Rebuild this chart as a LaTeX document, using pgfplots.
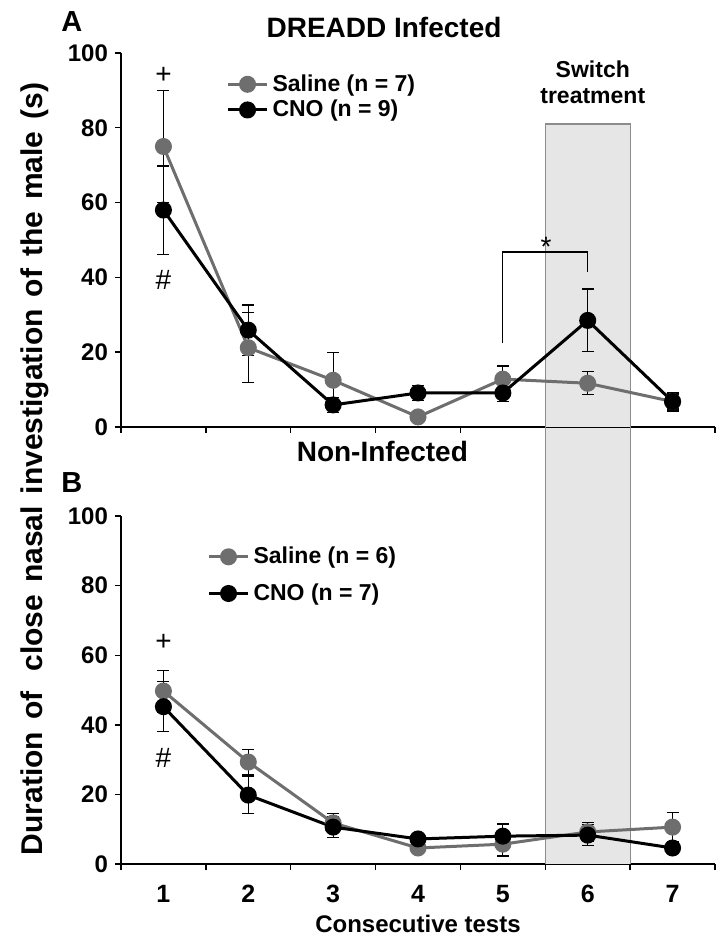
\documentclass[border=0pt]{standalone}
\usepackage{fontspec}
\setmainfont{Liberation Sans}
\usepackage{pgfplots}
\pgfplotsset{compat=1.18}

\definecolor{salgray}{HTML}{6E6E6E}
\definecolor{boxfill}{HTML}{E6E6E6}
\definecolor{boxline}{HTML}{8C8C8C}

\pgfplotsset{
  panel/.style={
    scale only axis, width=297pt,
    xmin=0.5, xmax=7.5, ymin=0, ymax=100,
    axis x line=bottom, axis y line=left,
    axis line style={-, line width=0.7pt},
    ytick={0,20,...,100},
    xtick={1,...,7},
    minor xtick={0.5,1.5,...,7.5},
    tick style={black, line width=0.7pt},
    tick align=outside,
    major tick length=3pt,
    minor tick length=3pt,
    yticklabel style={font=\fontsize{12}{13}\selectfont\bfseries},
    xticklabel style={font=\fontsize{12.5}{13}\selectfont\bfseries},
    /pgf/number format/assume math mode=true,
    clip=false,
    legend style={draw=none, fill=none, inner sep=0pt,
      font=\fontsize{11.5}{13}\selectfont\bfseries, anchor=west},
    legend cell align=left,
    legend image code/.code={\draw[##1, mark repeat=2, mark phase=2]
      plot coordinates {(0pt,0pt)(9.75pt,0pt)(19.5pt,0pt)};},
  },
  sal/.style={color=salgray, line width=1.5pt, mark=*, mark size=3.5pt,
    mark options={fill=salgray, draw=salgray},
    error bars/.cd, y dir=both, y explicit,
    error bar style={black, line width=0.6pt},
    error mark options={black, rotate=90, mark size=3pt, line width=0.6pt}},
  cno/.style={color=black, line width=1.5pt, mark=*, mark size=3.5pt,
    mark options={fill=black, draw=black},
    error bars/.cd, y dir=both, y explicit,
    error bar style={black, line width=0.6pt},
    error mark options={black, rotate=90, mark size=3pt, line width=0.6pt}},
}

\begin{document}
\begin{tikzpicture}
\useasboundingbox (-60.5pt,-254.5pt) rectangle (299pt,213.5pt);

% panel A
\begin{axis}[panel, height=187pt, xticklabels={},
  major x tick style={draw=none},
  legend style={at={(0.177,0.882)}, row sep=-1pt}]
\fill[boxfill] (axis cs:5.5,0) rectangle (axis cs:6.5,81);
\draw[boxline, line width=0.6pt] (axis cs:5.5,0) -- (axis cs:5.5,81) -- (axis cs:6.5,81) -- (axis cs:6.5,0);
\addplot[sal] coordinates {
  (1,75.0) +- (0,15.0)
  (2,21.2) +- (0,9.4)
  (3,12.5) +- (0,7.5)
  (4,2.7)  +- (0,1.5)
  (5,12.8) +- (0,3.5)
  (6,11.7) +- (0,3.1)
  (7,6.8)  +- (0,2.0)
};
\addplot[cno] coordinates {
  (1,58.0) +- (0,11.8)
  (2,25.9) +- (0,6.7)
  (3,5.9)  +- (0,2.0)
  (4,9.1)  +- (0,2.0)
  (5,9.1)  +- (0,2.2)
  (6,28.5) +- (0,8.4)
  (7,6.8)  +- (0,2.5)
};
\legend{Saline (n = 7), CNO (n = 9)}
\draw[line width=0.6pt] (axis cs:5,22.5) -- (axis cs:5,46.8) -- (axis cs:6,46.8) -- (axis cs:6,41.4);
\node[font=\fontsize{14}{14}\selectfont, anchor=base] at (axis cs:5.51,45.6) {*};
\node[font=\fontsize{14}{14}\selectfont] at (axis cs:1,94.1) {+};
\node[font=\fontsize{14}{14}\selectfont] at (axis cs:1,39.3) {\#};
\node[font=\fontsize{14}{16}\selectfont\bfseries] at (axis cs:3.6,106.7) {DREADD Infected};
\node[font=\fontsize{14.5}{16}\selectfont\bfseries] at (axis cs:-0.08,108.3) {A};
\node[font=\fontsize{11.5}{13}\selectfont\bfseries, align=center] at (axis cs:6.06,92.3) {Switch\\[0pt]treatment};
\end{axis}

% panel B
\begin{axis}[panel, height=174pt, at={(0pt,-44.5pt)}, anchor=north west,
  major x tick style={draw=none},
  xticklabel style={yshift=-4pt},
  xlabel={Consecutive tests},
  xlabel style={font=\fontsize{12}{13}\selectfont\bfseries, yshift=0.5pt},
  legend style={at={(0.145,0.83)}, row sep=4.5pt}]
\fill[boxfill] (axis cs:5.5,0) rectangle (axis cs:6.5,125.4);
\draw[boxline, line width=0.6pt] (axis cs:5.5,0) -- (axis cs:5.5,125.6);
\draw[boxline, line width=0.6pt] (axis cs:6.5,0) -- (axis cs:6.5,125.6);
\addplot[sal] coordinates {
  (1,49.7) +- (0,6.0)
  (2,29.3) +- (0,3.7)
  (3,11.8) +- (0,2.8)
  (4,4.6)  +- (0,1.3)
  (5,5.7)  +- (0,3.4)
  (6,9.2)  +- (0,2.8)
  (7,10.6) +- (0,4.3)
};
\addplot[cno] coordinates {
  (1,45.2) +- (0,7.2)
  (2,19.8) +- (0,5.3)
  (3,10.6) +- (0,3.0)
  (4,7.2)  +- (0,1.5)
  (5,8.0)  +- (0,3.5)
  (6,8.3)  +- (0,3.0)
  (7,4.6)  +- (0,1.2)
};
\legend{Saline (n = 6), CNO (n = 7)}
\node[font=\fontsize{14}{14}\selectfont] at (axis cs:1,63.8) {+};
\node[font=\fontsize{14}{14}\selectfont] at (axis cs:1,30.5) {\#};
\node[font=\fontsize{14}{16}\selectfont\bfseries] at (axis cs:3.58,118.4) {Non-Infected};
\node[font=\fontsize{14.5}{16}\selectfont\bfseries] at (axis cs:-0.08,109.5) {B};
\end{axis}

\node[rotate=90, font=\fontsize{15}{16}\selectfont\bfseries] at (-43pt,-21pt)
  {\spaceskip=6pt\relax Duration of\hspace{10pt}close nasal investigation of the male (s)};
\end{tikzpicture}
\end{document}
